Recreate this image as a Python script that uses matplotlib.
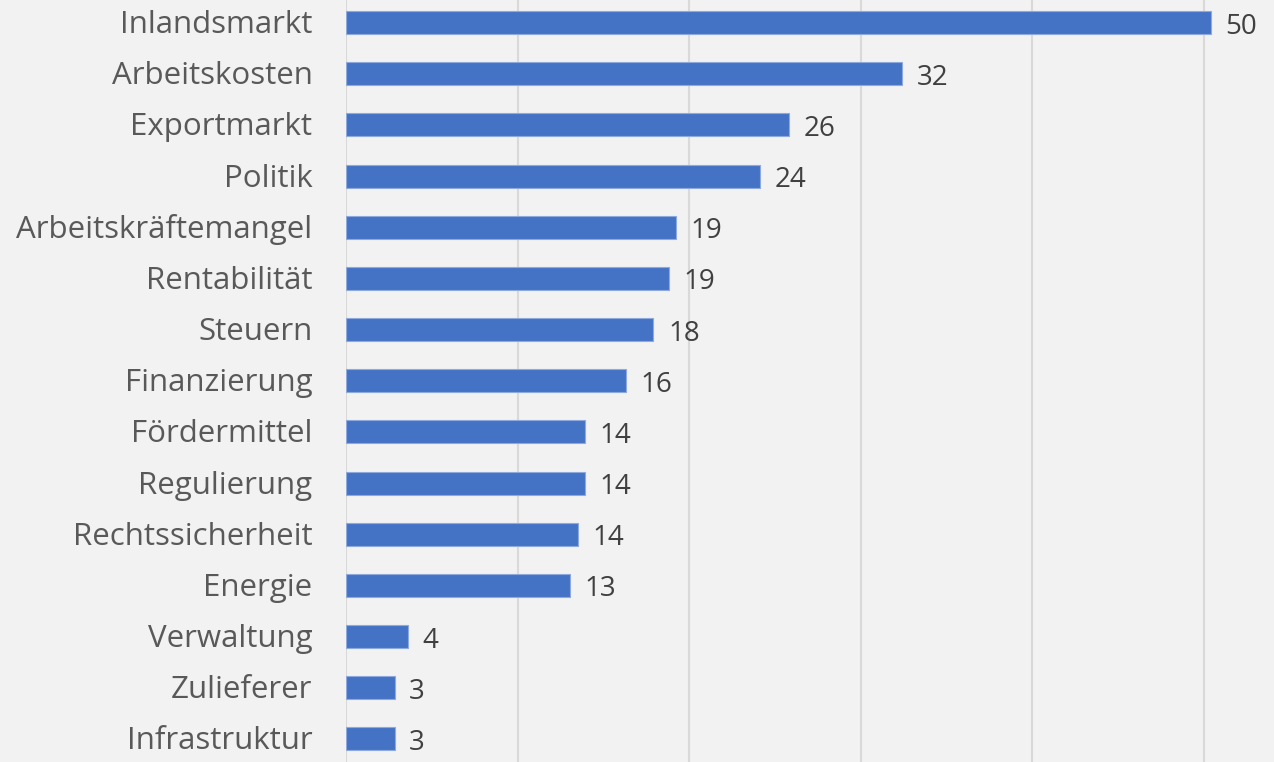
import matplotlib
matplotlib.use("Agg")
import matplotlib.pyplot as plt
import matplotlib.transforms as mtransforms

# categories from top to bottom
categories = ["Inlandsmarkt", "Arbeitskosten", "Exportmarkt", "Politik",
              "Arbeitskräftemangel", "Rentabilität", "Steuern", "Finanzierung",
              "Fördermittel", "Regulierung", "Rechtssicherheit", "Energie",
              "Verwaltung", "Zulieferer", "Infrastruktur"]
values = [50.4, 32.4, 25.8, 24.1, 19.2, 18.8, 17.9, 16.3,
          13.9, 13.9, 13.5, 13.05, 3.6, 2.8, 2.8]

bg = "#F2F2F2"
bar_color = "#4472C4"
bar_h = 0.45

plt.rcParams["font.family"] = ["Open Sans", "DejaVu Sans"]

fig = plt.figure(figsize=(12.74, 7.62), dpi=100, facecolor=bg)
ax = fig.add_axes([346.5 / 1274, 0, 1 - 346.5 / 1274, 1], facecolor=bg)

ypos = list(range(len(categories)))
ax.barh(ypos, values, height=bar_h, color=bar_color, edgecolor="#8EA9DB",
        linewidth=0.8, zorder=3)

# value labels: baseline sits on the bottom edge of the bar
for y, v in zip(ypos, values):
    ax.text(v + 0.85, y + bar_h / 2 - 0.01, f"{round(v):d}", va="baseline",
            ha="left", fontsize=20, color="#404040")

# category labels, right aligned ~35 px left of the axis
trans = mtransforms.blended_transform_factory(ax.transAxes, ax.transData)
for y, name in zip(ypos, categories):
    ax.text(-34 / 927.5, y + bar_h / 2 - 0.02, name, transform=trans,
            va="baseline", ha="right", fontsize=22.5, color="#595959")

ax.set_xlim(0, 54.1)
ax.set_ylim(14.45, -0.44)
ax.set_xticks([0, 10, 20, 30, 40, 50])
ax.xaxis.grid(True, color="#D9D9D9", linewidth=1.5, zorder=0)
ax.tick_params(axis="x", length=0, labelbottom=False)
ax.set_yticks([])

for side in ["top", "right", "bottom", "left"]:
    ax.spines[side].set_visible(False)

fig.savefig("out.png", dpi=100, facecolor=bg)
